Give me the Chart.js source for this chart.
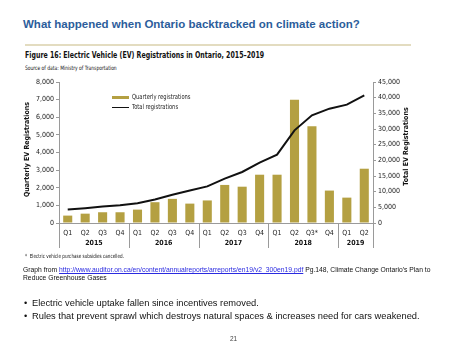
<!DOCTYPE html>
<html>
<head>
<meta charset="utf-8">
<script src="https://cdn.jsdelivr.net/npm/chart.js@4.4.1/dist/chart.umd.min.js"></script>
<style>
  body { margin: 0; width: 469px; height: 350px; background: #fff; position: relative; overflow: hidden;
         font-family: 'Liberation Sans', Arial, sans-serif; color: #111; }
  .abs { position: absolute; white-space: nowrap; }
  .narrow { font-family: 'Liberation Sans Narrow', 'DejaVu Sans Condensed', 'Liberation Sans', sans-serif;
            transform: scaleX(0.82); transform-origin: left center; }
  #title { left: 23px; top: 18px; font-size: 11.5px; font-weight: bold; color: #2c5d9b; }
  #rule { left: 25px; top: 44px; width: 386px; height: 2px; background: #e3dcc0; }
  #fig { left: 25px; top: 50px; font-size: 8.5px; font-weight: bold; }
  #src { left: 25px; top: 64px; font-size: 6px; }
  #chartbox { left: 0; top: 72px; width: 469px; height: 185px; }
  .lg { font-size: 7px; color: #222; }
  #foot { left: 25px; top: 253px; font-size: 5.6px; }
  #graph { left: 23px; top: 266px; font-size: 6.75px; line-height: 8px; }
  #graph a { color: #2a2ae0; text-decoration: underline; }
  .bullet { left: 24px; font-size: 9.3px; }
  .bullet span { display: inline-block; width: 8px; }
  #page { left: 230px; top: 335px; font-size: 6.5px; color: #444; }
</style>
</head>
<body>
<div class="abs" id="title">What happened when Ontario backtracked on climate action?</div>
<div class="abs" id="rule"></div>
<div class="abs narrow" id="fig">Figure 16: Electric Vehicle (EV) Registrations in Ontario, 2015–2019</div>
<div class="abs narrow" id="src">Source of data: Ministry of Transportation</div>

<div class="abs" id="chartbox"><canvas id="ev-chart" width="469" height="185"></canvas></div>

<div class="abs" style="left:112px;top:95.5px;width:17px;height:3px;background:#b4a042"></div>
<div class="abs narrow lg" style="left:132px;top:92.5px">Quarterly registrations</div>
<div class="abs" style="left:112px;top:106.5px;width:17px;height:1.5px;background:#111"></div>
<div class="abs narrow lg" style="left:132px;top:103px">Total registrations</div>

<div class="abs narrow" id="foot">*&nbsp;&nbsp;Electric vehicle purchase subsidies cancelled.</div>
<div class="abs" id="graph">Graph from <a>http://www.auditor.on.ca/en/content/annualreports/arreports/en19/v2_300en19.pdf</a> Pg.148, Climate Change Ontario’s Plan to<br>Reduce Greenhouse Gases</div>
<div class="abs bullet" style="top:298px"><span>•</span>Electric vehicle uptake fallen since incentives removed.</div>
<div class="abs bullet" style="top:311px"><span>•</span>Rules that prevent sprawl which destroys natural spaces &amp; increases need for cars weakened.</div>
<div class="abs" id="page">21</div>

<script>
var quarters = ['Q1', 'Q2', 'Q3', 'Q4', 'Q1', 'Q2', 'Q3', 'Q4', 'Q1', 'Q2', 'Q3', 'Q4', 'Q1', 'Q2', 'Q3*', 'Q4', 'Q1', 'Q2'];
var years = ['2015', '2016', '2017', '2018', '2019'];
var quartersPerYear = [4, 4, 4, 4, 2];
var quarterlyRegs = [420, 530, 610, 610, 760, 1180, 1370, 1100, 1280, 2160, 2060, 2740, 2740, 7000, 5490, 1840, 1440, 3080];
var totalRegs = [4290, 4710, 5250, 5680, 6320, 7500, 9000, 10390, 11680, 14150, 16280, 19250, 21810, 29570, 34360, 36490, 37770, 40750];

var narrowFont = "'Liberation Sans Narrow', 'DejaVu Sans Condensed', 'Liberation Sans', sans-serif";
var axisGrey = '#9a9a9a';

// year labels under the quarters, with the little separators between them
var yearGroups = {
  id: 'yearGroups',
  afterDraw: function(chart) {
    var ctx = chart.ctx;
    var x = chart.scales.x;
    var area = chart.chartArea;
    var half = (x.getPixelForValue(1) - x.getPixelForValue(0)) / 2;
    ctx.save();
    ctx.strokeStyle = axisGrey;
    ctx.lineWidth = 1;
    ctx.fillStyle = '#111';
    ctx.font = 'bold 7px ' + narrowFont;
    ctx.textAlign = 'center';
    ctx.textBaseline = 'middle';
    var start = 0;
    for (var i = 0; i < years.length; i++) {
      var end = start + quartersPerYear[i] - 1;
      var left = x.getPixelForValue(start) - half;
      var right = x.getPixelForValue(end) + half;
      ctx.beginPath();
      ctx.moveTo(Math.round(left) + 0.5, area.bottom);
      ctx.lineTo(Math.round(left) + 0.5, area.bottom + 25);
      if (i == years.length - 1) {
        ctx.moveTo(Math.round(right) + 0.5, area.bottom);
        ctx.lineTo(Math.round(right) + 0.5, area.bottom + 25);
      }
      ctx.stroke();
      ctx.fillText(years[i], (left + right) / 2, area.bottom + 20);
      start = end + 1;
    }
    ctx.restore();
  }
};

var axisTitles = {
  id: 'axisTitles',
  afterDraw: function(chart) {
    var ctx = chart.ctx;
    var area = chart.chartArea;
    var mid = (area.top + area.bottom) / 2;
    ctx.save();
    ctx.fillStyle = '#111';
    ctx.font = 'bold 7px ' + narrowFont;
    ctx.textAlign = 'center';
    ctx.textBaseline = 'middle';
    ctx.translate(27, mid - 3);
    ctx.rotate(-Math.PI / 2);
    ctx.fillText('Quarterly EV Registrations', 0, 0);
    ctx.restore();
    ctx.save();
    ctx.fillStyle = '#111';
    ctx.font = 'bold 7px ' + narrowFont;
    ctx.textAlign = 'center';
    ctx.textBaseline = 'middle';
    ctx.translate(area.right + 33, mid - 6);
    ctx.rotate(-Math.PI / 2);
    ctx.fillText('Total EV Registrations', 0, 0);
    ctx.restore();
  }
};

var tickFont = { family: narrowFont, size: 7 };

var ctx = document.getElementById('ev-chart').getContext('2d');
new Chart(ctx, {
  type: 'bar',
  data: {
    labels: quarters,
    datasets: [
      {
        type: 'line',
        label: 'Total registrations',
        data: totalRegs,
        yAxisID: 'y2',
        borderColor: '#111',
        borderWidth: 2,
        pointRadius: 0,
        tension: 0,
        order: 0
      },
      {
        type: 'bar',
        label: 'Quarterly registrations',
        data: quarterlyRegs,
        yAxisID: 'y',
        backgroundColor: '#b4a042',
        barPercentage: 0.52,
        categoryPercentage: 1,
        order: 1
      }
    ]
  },
  options: {
    responsive: false,
    devicePixelRatio: 1,
    animation: false,
    layout: { padding: { top: 10, right: 46, left: 0, bottom: 0 } },
    plugins: {
      legend: { display: false },
      tooltip: { enabled: false }
    },
    scales: {
      x: {
        offset: true,
        grid: { display: true, drawOnChartArea: false, drawTicks: false },
        border: { color: axisGrey },
        ticks: { font: tickFont, color: '#222', padding: 6, maxRotation: 0, autoSkip: false },
        afterFit: function(scale) { scale.height = 34 }
      },
      y: {
        position: 'left',
        min: 0,
        max: 8000,
        ticks: {
          stepSize: 1000,
          font: tickFont,
          color: '#222',
          padding: 2,
          callback: function(value) { return value.toLocaleString('en-US') }
        },
        grid: { drawOnChartArea: false, tickLength: 3, color: axisGrey },
        border: { color: axisGrey },
        afterFit: function(scale) { scale.width = 59 }
      },
      y2: {
        position: 'right',
        min: 0,
        max: 45000,
        ticks: {
          stepSize: 5000,
          font: tickFont,
          color: '#222',
          padding: 2,
          callback: function(value) { return value.toLocaleString('en-US') }
        },
        grid: { drawOnChartArea: false, tickLength: 3, color: axisGrey },
        border: { color: axisGrey },
        afterFit: function(scale) { scale.width = 50 }
      }
    }
  },
  plugins: [yearGroups, axisTitles]
});
</script>
</body>
</html>
